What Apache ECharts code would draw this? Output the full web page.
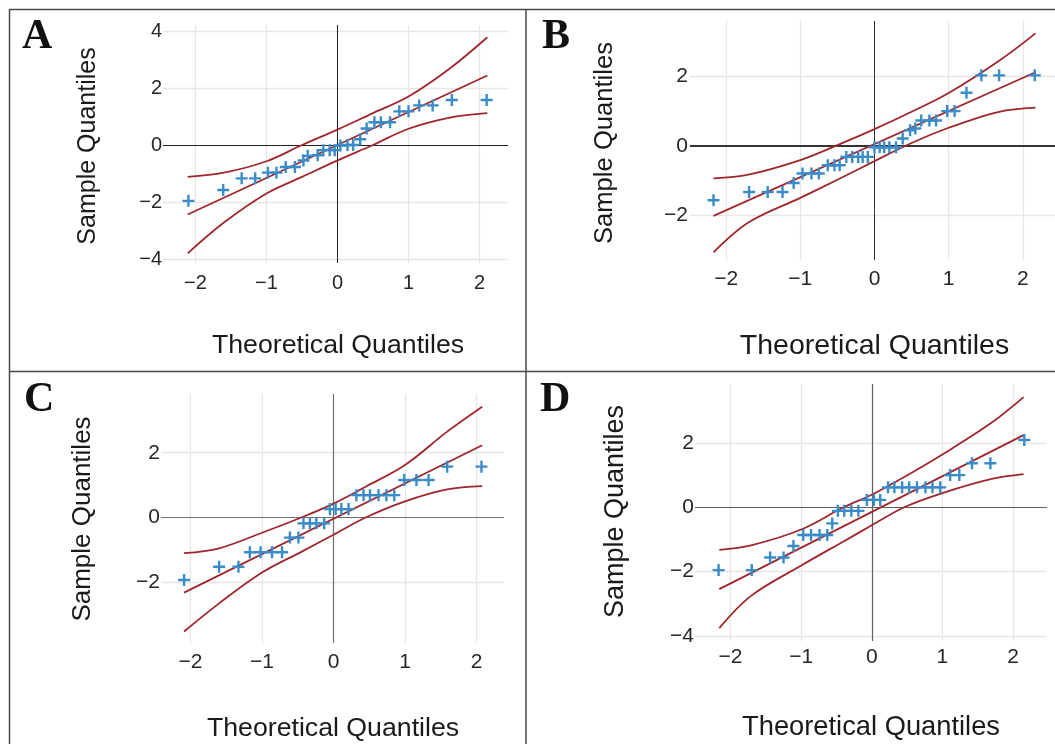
<!DOCTYPE html>
<html>
<head>
<meta charset="utf-8">
<title>Q-Q plots</title>
<script src="https://cdn.jsdelivr.net/npm/echarts@6/dist/echarts.min.js"></script>
<style>
  html, body { margin: 0; padding: 0; background: #fff; }
  #main { width: 1055px; height: 744px; }
</style>
</head>
<body>
<div id="main"></div>
<script>
// panel A
var aTheo = [-2.10, -1.61, -1.35, -1.16, -0.98, -0.86, -0.73, -0.60, -0.48, -0.42, -0.28, -0.20, -0.11, -0.04,
    0.04, 0.14, 0.22, 0.32, 0.41, 0.52, 0.61, 0.74, 0.87, 1.00, 1.15, 1.34, 1.61, 2.10];
var aSample = [-1.96, -1.58, -1.17, -1.17, -0.97, -0.97, -0.77, -0.77, -0.54, -0.38, -0.36, -0.18, -0.18, -0.18,
    -0.02, 0, 0, 0.20, 0.58, 0.80, 0.80, 0.80, 1.18, 1.18, 1.39, 1.39, 1.58, 1.58];
var aRefX = [-2.11, 2.11];
var aRefY = [-2.44, 2.44];
var aBandX = [-2.11, -1.6, -1.0, -0.5, 0, 0.5, 1.0, 1.6, 2.11];
var aUpper = [-1.12, -0.97, -0.57, 0.0, 0.54, 1.12, 1.70, 2.72, 3.78];
var aLower = [-3.80, -2.72, -1.70, -1.12, -0.54, 0.0, 0.57, 0.97, 1.12];
var aXTicks = [-2, -1, 0, 1, 2];
var aYTicks = [-4, -2, 0, 2, 4];

// panel B
var bTheo = [-2.17, -1.69, -1.44, -1.24, -1.09, -0.97, -0.85, -0.75, -0.63, -0.54, -0.47, -0.38, -0.30, -0.22, -0.16, -0.09,
    0.00, 0.07, 0.13, 0.20, 0.29, 0.38, 0.48, 0.55, 0.63, 0.74, 0.83, 0.98, 1.08, 1.24, 1.44, 1.68, 2.16];
var bSample = [-1.57, -1.33, -1.33, -1.33, -1.07, -0.80, -0.80, -0.80, -0.56, -0.56, -0.56, -0.32, -0.32, -0.32, -0.32, -0.32,
    -0.04, -0.04, -0.04, -0.04, -0.04, 0.21, 0.45, 0.50, 0.73, 0.73, 0.73, 1.00, 1.00, 1.53, 2.03, 2.03, 2.03];
var bRefX = [-2.17, 2.17];
var bRefY = [-2.02, 2.12];
var bBandX = [-2.17, -1.7, -1.0, -0.5, 0, 0.5, 1.0, 1.68, 2.17];
var bUpper = [-0.94, -0.83, -0.41, 0.02, 0.48, 0.98, 1.52, 2.45, 3.24];
var bLower = [-3.07, -2.21, -1.50, -0.98, -0.44, 0.08, 0.52, 0.98, 1.10];
var bXTicks = [-2, -1, 0, 1, 2];
var bYTicks = [-2, 0, 2];

// panel C
var cTheo = [-2.09, -1.60, -1.33, -1.17, -1.02, -0.86, -0.72, -0.61, -0.49, -0.42, -0.33, -0.24, -0.13, -0.05,
    0.03, 0.11, 0.21, 0.32, 0.42, 0.51, 0.63, 0.74, 0.85, 0.99, 1.16, 1.33, 1.59, 2.07];
var cSample = [-1.93, -1.52, -1.52, -1.07, -1.07, -1.07, -1.07, -0.62, -0.62, -0.18, -0.18, -0.18, -0.18,
    0.26, 0.26, 0.26, 0.26, 0.69, 0.69, 0.69, 0.69, 0.69, 0.69, 1.16, 1.16, 1.16, 1.57, 1.57];
var cRefX = [-2.09, 2.08];
var cRefY = [-2.32, 2.23];
var cBandX = [-2.09, -1.6, -1.0, -0.45, 0, 0.45, 1.0, 1.59, 2.08];
var cUpper = [-1.10, -0.95, -0.47, 0.0, 0.43, 0.95, 1.62, 2.65, 3.42];
var cLower = [-3.52, -2.65, -1.70, -1.06, -0.53, 0.0, 0.50, 0.87, 0.97];
var cXTicks = [-2, -1, 0, 1, 2];
var cYTicks = [-2, 0, 2];

// panel D
var dTheo = [-2.17, -1.70, -1.44, -1.25, -1.11, -0.97, -0.86, -0.74, -0.63, -0.56, -0.48, -0.39, -0.29, -0.19, -0.07,
    0.03, 0.12, 0.23, 0.32, 0.43, 0.53, 0.64, 0.76, 0.86, 0.97, 1.11, 1.24, 1.42, 1.68, 2.16];
var dSample = [-1.95, -1.95, -1.56, -1.56, -1.20, -0.86, -0.86, -0.86, -0.86, -0.50, -0.11, -0.11, -0.11, -0.11, 0.23,
    0.23, 0.23, 0.62, 0.62, 0.62, 0.62, 0.62, 0.62, 0.62, 0.62, 1.00, 1.00, 1.37, 1.37, 2.09];
var dRefX = [-2.16, 2.15];
var dRefY = [-2.54, 2.24];
var dBandX = [-2.16, -1.71, -1.0, -0.4, 0, 0.46, 1.0, 1.70, 2.15];
var dUpper = [-1.32, -1.18, -0.69, 0.0, 0.39, 0.94, 1.64, 2.63, 3.42];
var dLower = [-3.75, -2.75, -1.81, -1.06, -0.56, 0.0, 0.44, 0.88, 1.03];
var dXTicks = [-2, -1, 0, 1, 2];
var dYTicks = [-4, -2, 0, 2, 4];

var xTitle = 'Theoretical Quantiles';
var yTitle = 'Sample Quantiles';

var RED = '#9f262c';
var BLUE = '#3a8cc8';
var GRIDC = '#e6e6e6';
var FONT = '"Liberation Sans", Arial, sans-serif';
var PLUS = 'path://M0,4.4H11V6.6H0Z M4.4,0H6.6V11H4.4Z';

var panels = [
    {letter: 'A', theo: aTheo, sample: aSample, refX: aRefX, refY: aRefY, bandX: aBandX, upper: aUpper, lower: aLower,
        xTicks: aXTicks, yTicks: aYTicks,
        grid: {left: 163, top: 25, width: 345, height: 238}, xr: [-2.458, 2.401], yr: [-4.14, 4.21],
        tickSize: 20, xMargin: 10, yMargin: 1, zeroX: {color: '#222', width: 1}, zeroY: {color: '#222', width: 1},
        letterPos: [22, 37], xt: [338, 346, 26.7], yt: [88, 146, 25]},
    {letter: 'B', theo: bTheo, sample: bSample, refX: bRefX, refY: bRefY, bandX: bBandX, upper: bUpper, lower: bLower,
        xTicks: bXTicks, yTicks: bYTicks,
        grid: {left: 690, top: 21, width: 365, height: 239}, xr: [-2.487, 2.433], yr: [-3.291, 3.597],
        tickSize: 21, xMargin: 9, yMargin: 2, zeroX: {color: '#333', width: 1}, zeroY: {color: '#333', width: 2},
        letterPos: [542, 37], xt: [874.5, 346, 28.5], yt: [605, 143, 25.6]},
    {letter: 'C', theo: cTheo, sample: cSample, refX: cRefX, refY: cRefY, bandX: cBandX, upper: cUpper, lower: cLower,
        xTicks: cXTicks, yTicks: cYTicks,
        grid: {left: 161, top: 394, width: 343, height: 249}, xr: [-2.413, 2.385], yr: [-3.873, 3.812],
        tickSize: 21, xMargin: 9, yMargin: 1, zeroX: {color: '#707070', width: 1.2}, zeroY: {color: '#707070', width: 1.2},
        letterPos: [24, 400.5], xt: [333, 729, 26.7], yt: [82.5, 519, 26]},
    {letter: 'D', theo: dTheo, sample: dSample, refX: dRefX, refY: dRefY, bandX: dBandX, upper: dUpper, lower: dLower,
        xTicks: dXTicks, yTicks: dYTicks,
        grid: {left: 695, top: 384, width: 352, height: 257}, xr: [-2.504, 2.482], yr: [-4.152, 3.829],
        tickSize: 21, xMargin: 6, yMargin: 1, zeroX: {color: '#606060', width: 1.2}, zeroY: {color: '#606060', width: 1.2},
        letterPos: [540, 400.5], xt: [871, 727, 27.3], yt: [615.5, 511.5, 27]}
];

function pairs(xs, ys) {
    return xs.map(function (x, i) { return [x, ys[i]]; });
}

function tickLabel(ticks) {
    return function (v) {
        var r = Math.round(v * 1000) / 1000;
        if (ticks.indexOf(r) < 0) return '';
        return r < 0 ? '\u2212' + (-r) : '' + r;
    };
}

var grids = [], xAxes = [], yAxes = [], series = [], graphics = [];

panels.forEach(function (p, i) {
    grids.push({left: p.grid.left, top: p.grid.top, width: p.grid.width, height: p.grid.height, containLabel: false});
    xAxes.push({
        type: 'value', gridIndex: i, min: p.xr[0], max: p.xr[1],
        axisLine: {show: false}, axisTick: {show: false}, splitLine: {show: false},
        axisLabel: {customValues: p.xTicks, formatter: tickLabel(p.xTicks), fontSize: p.tickSize,
            fontFamily: FONT, color: '#262626', margin: p.xMargin}
    });
    yAxes.push({
        type: 'value', gridIndex: i, min: p.yr[0], max: p.yr[1],
        axisLine: {show: false}, axisTick: {show: false}, splitLine: {show: false},
        axisLabel: {customValues: p.yTicks, formatter: tickLabel(p.yTicks), fontSize: p.tickSize,
            fontFamily: FONT, color: '#262626', margin: p.yMargin}
    });

    // grid lines + zero lines
    var marks = [];
    p.xTicks.forEach(function (v) {
        marks.push({xAxis: v, lineStyle: v === 0 ? {color: p.zeroX.color, width: p.zeroX.width, type: 'solid'} : {color: GRIDC, width: 1.3, type: 'solid'}});
    });
    p.yTicks.forEach(function (v) {
        marks.push({yAxis: v, lineStyle: v === 0 ? {color: p.zeroY.color, width: p.zeroY.width, type: 'solid'} : {color: GRIDC, width: 1.3, type: 'solid'}});
    });
    // zero lines last so they sit on top of the light grid
    marks.sort(function (a, b) {
        var za = (a.xAxis === 0 || a.yAxis === 0) ? 1 : 0;
        var zb = (b.xAxis === 0 || b.yAxis === 0) ? 1 : 0;
        return za - zb;
    });

    series.push({
        type: 'line', xAxisIndex: i, yAxisIndex: i, data: pairs(p.refX, p.refY),
        showSymbol: false, lineStyle: {color: RED, width: 1.8}, z: 3, silent: true,
        markLine: {silent: true, symbol: ['none', 'none'], label: {show: false}, z: 1, animation: false, data: marks}
    });
    series.push({
        type: 'line', xAxisIndex: i, yAxisIndex: i, data: pairs(p.bandX, p.upper), smooth: 0.35,
        showSymbol: false, lineStyle: {color: RED, width: 1.8}, z: 3, silent: true
    });
    series.push({
        type: 'line', xAxisIndex: i, yAxisIndex: i, data: pairs(p.bandX, p.lower), smooth: 0.35,
        showSymbol: false, lineStyle: {color: RED, width: 1.8}, z: 3, silent: true
    });
    series.push({
        type: 'scatter', xAxisIndex: i, yAxisIndex: i, data: pairs(p.theo, p.sample),
        symbol: PLUS, symbolSize: 12, itemStyle: {color: BLUE, opacity: 1}, z: 4, silent: true
    });

    graphics.push({type: 'text', x: p.letterPos[0], y: p.letterPos[1],
        style: {text: p.letter, font: 'bold 42px "Liberation Serif", serif', fill: '#111', align: 'left', verticalAlign: 'middle'}});
    graphics.push({type: 'text', x: p.xt[0], y: p.xt[1],
        style: {text: xTitle, font: p.xt[2] + 'px ' + FONT, fill: '#1a1a1a', align: 'center', verticalAlign: 'middle'}});
    graphics.push({type: 'text', x: p.yt[0], y: p.yt[1], rotation: Math.PI / 2,
        style: {text: yTitle, font: p.yt[2] + 'px ' + FONT, fill: '#1a1a1a', align: 'center', verticalAlign: 'middle'}});
});

// panel frames
var frame = {stroke: '#4a4a4a', lineWidth: 1.5};
graphics.push({type: 'line', shape: {x1: 9, y1: 9.5, x2: 1055, y2: 9.5}, style: frame});
graphics.push({type: 'line', shape: {x1: 9.5, y1: 9, x2: 9.5, y2: 744}, style: frame});
graphics.push({type: 'line', shape: {x1: 526, y1: 9, x2: 526, y2: 744}, style: frame});
graphics.push({type: 'line', shape: {x1: 9, y1: 371.5, x2: 1055, y2: 371.5}, style: frame});

var chart = echarts.init(document.getElementById('main'));
chart.setOption({
    backgroundColor: '#fff',
    animation: false,
    grid: grids,
    xAxis: xAxes,
    yAxis: yAxes,
    series: series,
    graphic: graphics
});
</script>
</body>
</html>
